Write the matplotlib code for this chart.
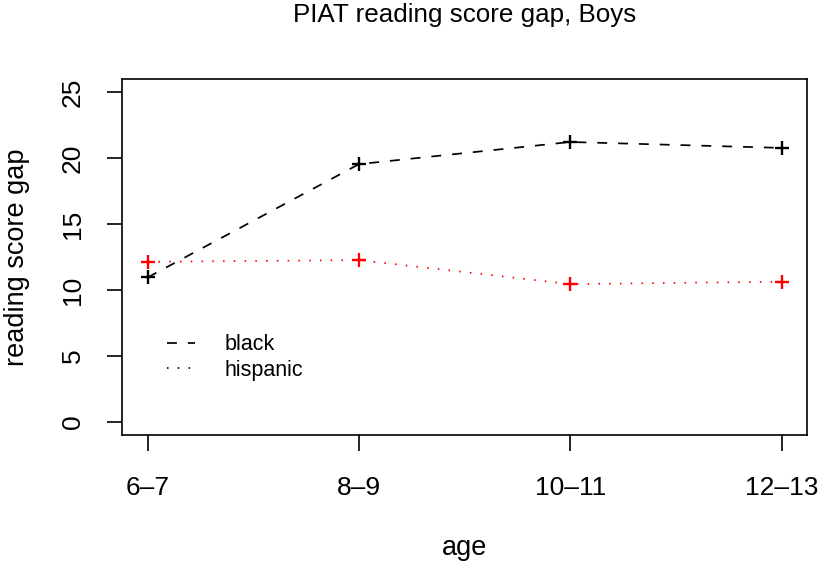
import numpy as np
import matplotlib
matplotlib.use('Agg')
import matplotlib.pyplot as plt
from matplotlib.lines import Line2D

plt.rcParams['font.family'] = ['Liberation Sans', 'DejaVu Sans']

ages = ['6\u20137', '8\u20139', '10\u201311', '12\u201313']
black_gap = [10.96, 19.55, 21.23, 20.78]
hispanic_gap = [12.14, 12.27, 10.45, 10.63]

x = np.arange(1, len(ages) + 1)
lw = 1.25
dash = (0, (5.7, 6.3))
dot = (0, (0.9, 5.3))

fig = plt.figure(figsize=(8.21, 5.65), dpi=100)
ax = fig.add_axes([0.149, 0.230, 0.834, 0.630])

ax.plot(x, black_gap, color='black', lw=lw, linestyle=dash,
        marker='+', markersize=10, markeredgewidth=1.7)
ax.plot(x, hispanic_gap, color='red', lw=lw, linestyle=dot,
        marker='+', markersize=10, markeredgewidth=1.7)

ax.set_xlim(0.88, 4.12)
ax.set_ylim(-1, 26)
ax.set_xticks(x)
ax.set_xticklabels(ages)
ax.set_yticks([0, 5, 10, 15, 20, 25])
ax.tick_params(axis='x', length=11.5, width=1.2, labelsize=19, pad=18)
ax.tick_params(axis='y', length=11, width=1.2, labelsize=19, pad=16, labelrotation=90)
for lab in ax.get_yticklabels():
    lab.set_va('center')
for s in ax.spines.values():
    s.set_linewidth(1.2)

ax.set_xlabel('age', fontsize=19.5, va='center')
ax.xaxis.set_label_coords(0.5, -0.317)
ax.set_ylabel('reading score gap', fontsize=19.5, va='center')
ax.yaxis.set_label_coords(-0.154, 0.5)
ax.set_title('PIAT reading score gap, Boys', fontsize=18.7, y=1.160, pad=0)

# legend lines drawn without markers
handles = [Line2D([], [], color='black', lw=lw, linestyle=dash),
           Line2D([], [], color='black', lw=lw, linestyle=dot)]
ax.legend(handles, ['black', 'hispanic'], loc='upper left',
          bbox_to_anchor=(0.065, 0.283), frameon=False, fontsize=15.5,
          handlelength=1.3, handletextpad=1.4, labelspacing=0.2,
          borderpad=0, borderaxespad=0)

fig.savefig('out.png', dpi=100)
